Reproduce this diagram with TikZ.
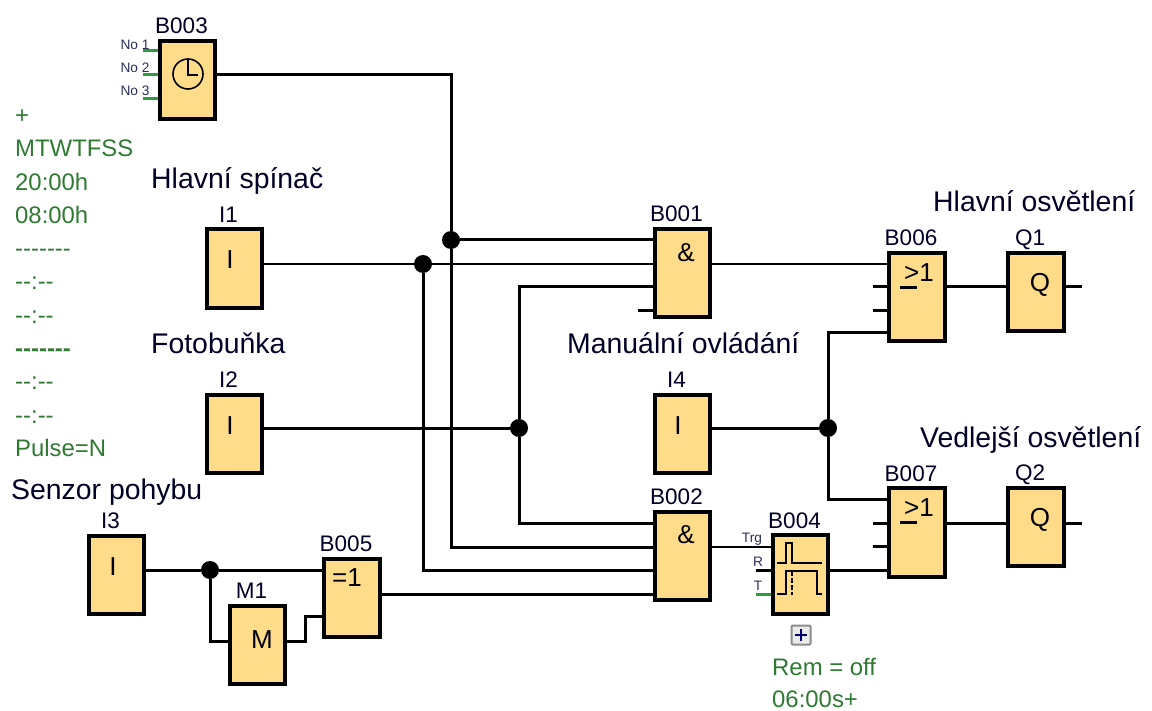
\documentclass[tikz,border=0pt]{standalone}
\usepackage{fontspec}
\setmainfont{Liberation Sans}
\usepackage{xcolor}
\usetikzlibrary{positioning}
\definecolor{blockfill}{HTML}{FFDC8A}
\definecolor{notegreen}{HTML}{2F7A32}
\definecolor{pingreen}{HTML}{2E9B3E}
\definecolor{pinblue}{HTML}{2A2F5A}
\newcommand{\sevendash}{-{}-{}-{}-{}-{}-{}-}
\newcommand{\notime}{-{}-:-{}-}
\newcommand{\atleastone}{\rlap{\hspace{-4pt}\rule[-7.5pt]{17pt}{2.2pt}}>1}
\tikzset{
  blk/.style={rectangle, draw, line width=3.6pt, fill=blockfill, minimum width=55.5pt, inner sep=0pt},
  short/.style={blk, minimum height=78.5pt},
  tall/.style={blk, minimum height=88.5pt},
  tag/.style={font=\fontsize{22.5}{24}\selectfont, inner sep=0pt, text depth=0pt, xshift=-6pt, text=black!85!blue},
  sym/.style={font=\fontsize{26}{28}\selectfont, inner sep=0pt},
  title/.style={font=\fontsize{28.4}{30}\selectfont, inner sep=0pt, anchor=base west, text=black!85!blue},
  note/.style={font=\fontsize{23.9}{33.3}\selectfont, inner sep=0pt, anchor=north west, align=left, text=notegreen},
  pin/.style={font=\fontsize{13.7}{15}\selectfont, inner sep=0pt, text=pinblue},
  wire/.style={line width=3pt},
  thinwire/.style={line width=2.8pt},
  gwire/.style={line width=3pt, draw=pingreen},
  wave/.style={line width=2.4pt},
  dot/.style={circle, fill=black, inner sep=0pt, minimum size=18pt}
}
\begin{document}
\begin{tikzpicture}[x=1pt, y=-1pt, node distance=5pt]
  \useasboundingbox (0,0) rectangle (1152,711);
  % blocks
  \node[short] (B003) at (187.5,80) {};
  \node[short] (I1) at (234.5,268.5) {};
  \node[short] (I2) at (234.5,434) {};
  \node[short] (I3) at (116.5,575) {};
  \node[short] (M1) at (257.5,645) {};
  \node[short] (B005) at (352,598) {};
  \node[tall] (B001) at (682.5,273) {};
  \node[short] (I4) at (682.5,434) {};
  \node[tall] (B002) at (682.5,556) {};
  \node[short] (B004) at (800.5,574.5) {};
  \node[tall] (B006) at (917,297) {};
  \node[tall] (B007) at (917,532.5) {};
  \node[short] (Q1) at (1036,292) {};
  \node[short] (Q2) at (1036,527) {};
  % block names
  \node[tag, above=of B003] (tB003) {B003};
  \node[tag, above=of I1] (tI1) {I1};
  \node[tag, above=of I2] (tI2) {I2};
  \node[tag, above=of I3] (tI3) {I3};
  \node[tag, above=of M1] (tM1) {M1};
  \node[tag, above=of B005] (tB005) {B005};
  \node[tag, above=of B001] (tB001) {B001};
  \node[tag, above=of I4] (tI4) {I4};
  \node[tag, above=of B002] (tB002) {B002};
  \node[tag, above=of B004] (tB004) {B004};
  \node[tag, above=of B006] (tB006) {B006};
  \node[tag, above=of B007] (tB007) {B007};
  \node[tag, above=of Q1] (tQ1) {Q1};
  \node[tag, above=of Q2] (tQ2) {Q2};
  % symbols
  \node[sym] (sI1) at (230,260) {I};
  \node[sym] (sI2) at (230,426) {I};
  \node[sym] (sI3) at (113,567) {I};
  \node[sym] (sI4) at (678,426) {I};
  \node[sym] (sM1) at (262,640) {M};
  \node[sym] (sB005) at (347,578) {=1};
  \node[sym] (sB001) at (686,253) {\&};
  \node[sym] (sB002) at (686,535) {\&};
  \node[sym] (sB006) at (919,276) {\atleastone};
  \node[sym] (sB007) at (919,511) {\atleastone};
  \node[sym] (sQ1) at (1040,285) {Q};
  \node[sym] (sQ2) at (1040,520) {Q};
  % junctions
  \node[dot] (d1) at (423,264) {};
  \node[dot] (d2) at (451,240) {};
  \node[dot] (d3) at (519,428) {};
  \node[dot] (d4) at (828,428) {};
  \node[dot] (d5) at (210,570) {};
  % pins
  \coordinate (No1) at (143,51);
  \coordinate (No2) at (143,75);
  \coordinate (No3) at (143,99);
  \coordinate (a3) at (0,287);
  \coordinate (a4) at (638,311);
  \coordinate (b1) at (0,523);
  \coordinate (b2) at (0,547);
  \coordinate (b3) at (0,570);
  \coordinate (b4) at (0,594);
  \coordinate (c2) at (873,287);
  \coordinate (c3) at (873,311);
  \coordinate (c4) at (0,333);
  \coordinate (e1) at (0,499);
  \coordinate (e2) at (873,523);
  \coordinate (e3) at (873,546);
  \coordinate (tR) at (756,570);
  \coordinate (tT) at (756,594);
  \coordinate (m) at (305,641);
  \coordinate (m2) at (305,616);
  \coordinate (q1) at (1082,287);
  \coordinate (q2) at (1082,523);
  % connectors
  \draw[gwire] (No1) -- (B003.west |- No1);
  \draw[gwire] (No2) -- (B003.west |- No2);
  \draw[gwire] (No3) -- (B003.west |- No3);
  \draw[wire] (B003.east |- No2) -| (d2);
  \draw[wire] (d2) -- (d2 |- b2) -- (B002.west |- b2);
  \draw[wire] (d2) -- (B001.west |- d2);
  \draw[thinwire] (I1.east |- d1) -- (d1) -- (B001.west |- d1);
  \draw[wire] (d1) -- (d1 |- b3) -- (B002.west |- b3);
  \draw[wire] (I2.east |- d3) -- (d3);
  \draw[wire] (B001.west |- a3) -| (d3);
  \draw[wire] (d3) |- (B002.west |- b1);
  \draw[wire] (a4) -- (B001.west |- a4);
  \draw[thinwire] (B001.east |- d1) -- (B006.west |- d1);
  \draw[wire] (c2) -- (B006.west |- c2);
  \draw[wire] (c3) -- (B006.west |- c3);
  \draw[wire] (I4.east |- d4) -- (d4);
  \draw[wire] (B006.west |- c4) -| (d4);
  \draw[wire] (d4) |- (B007.west |- e1);
  \draw[wire] (e2) -- (B007.west |- e2);
  \draw[wire] (e3) -- (B007.west |- e3);
  \draw[wire] (B006.east |- c2) -- (Q1.west |- c2);
  \draw[wire] (Q1.east |- c2) -- (q1);
  \draw[wire] (B007.east |- e2) -- (Q2.west |- e2);
  \draw[wire] (Q2.east |- e2) -- (q2);
  \draw[thinwire] (B002.east |- b2) -- (B004.west |- b2);
  \draw[wire] (tR) -- (B004.west |- tR);
  \draw[gwire] (tT) -- (B004.west |- tT);
  \draw[wire] (B004.east |- b3) -- (B007.west |- b3);
  \draw[wire] (I3.east |- d5) -- (d5) -- (B005.west |- d5);
  \draw[wire] (d5) |- (M1.west |- m);
  \draw[wire] (M1.east |- m) -- (m) -- (m2) -- (B005.west |- m2);
  \draw[wire] (B005.east |- b4) -- (B002.west |- b4);
  % clock
  \draw[line width=1.6pt] (188,74) circle (15pt);
  \draw[line width=2.6pt] (188,60) -- (188,75) -- (198,75);
  % pulse
  \draw[wave] (777,563) -- (786,563) -- (786,543) -- (792,543) -- (792,563) -- (822,563);
  \draw[wave] (777,594) -- (786,594) -- (786,571) -- (817,571) -- (817,594) -- (822,594);
  \draw[wave, dash pattern=on 5pt off 2pt] (792,571) -- (792,595);
  % plus button
  \node[rectangle, draw=black!45, line width=2pt, fill=black!8, rounded corners=1pt, minimum size=19pt, inner sep=0pt] (plus) at (801,635) {};
  \draw[line width=2pt, draw=blue!45!black] (plus.center) ++(-6,0) -- ++(12,0);
  \draw[line width=2pt, draw=blue!45!black] (plus.center) ++(0,-6) -- ++(0,12);
  % pin names
  \node[pin] (pNo1) at (135,45) {No 1};
  \node[pin] (pNo2) at (135,68) {No 2};
  \node[pin] (pNo3) at (135,91) {No 3};
  \node[pin] (pTrg) at (752,539) {Trg};
  \node[pin] (pR) at (758,562) {R};
  \node[pin] (pT) at (758,586) {T};
  % texts
  \node[title] (hs) at (151,189) {Hlavní spínač};
  \node[title] (fb) at (151,354) {Fotobuňka};
  \node[title] (sp) at (11,499) {Senzor pohybu};
  \node[title] (mo) at (567,354) {Manuální ovládání};
  \node[title] (ho) at (933,212) {Hlavní osvětlení};
  \node[title] (vo) at (920,447) {Vedlejší osvětlení};
  \node[note] (times) at (15,109.5) {+\\MTWTFSS\\20:00h\\08:00h\\\sevendash\\\notime\\\notime\\\textbf{\sevendash}\\\notime\\\notime\\Pulse=N};
  \node[note] (rem) at (772,658) {Rem = off\\[-1.5pt]06:00s+};
\end{tikzpicture}
\end{document}
